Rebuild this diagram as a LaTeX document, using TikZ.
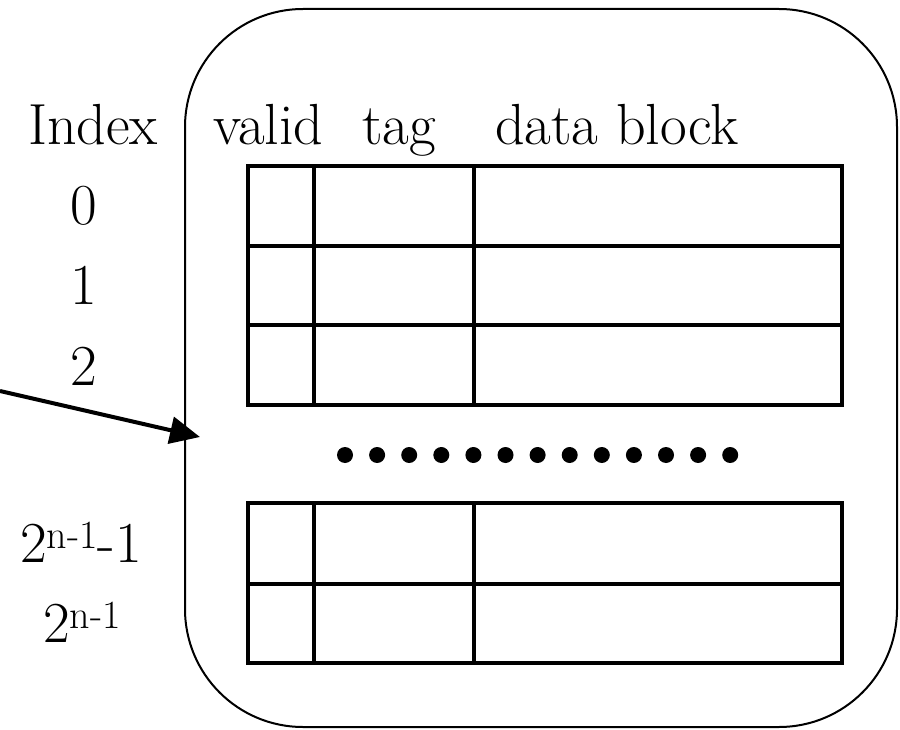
\documentclass[tikz,border=0pt]{standalone}
\usepackage{fontspec}
\usetikzlibrary{arrows.meta}
\newcommand{\supr}[1]{\raisebox{14pt}{\fontsize{40}{44}\selectfont #1}}
\begin{document}
\begin{tikzpicture}[x=1pt,y=-1pt,
  lbl/.style={inner sep=0pt, font=\fontsize{58}{70}\selectfont, anchor=base},
  hdr/.style={lbl, anchor=base west},
  gridline/.style={line width=3.5pt},
  frame/.style={line width=2pt, rounded corners=118pt},
  ptr/.style={line width=4pt, -{Triangle[length=30pt,width=27pt]}},
  dotmark/.style={circle, fill, inner sep=0pt, minimum size=16pt}]
\useasboundingbox (0,0) rectangle (900,730);
% outer rounded frame
\draw[frame] (185,9) rectangle (897,727);
% header labels
\node[lbl] (idx) at (93,145) {Index};
\node[hdr] (valid) at (213,145) {valid};
\node[hdr] (tag) at (362,145) {tag};
\node[hdr] (data) at (495,145) {data block};
% index labels
\node[lbl] (i0) at (84,225) {0};
\node[lbl] (i1) at (84,305) {1};
\node[lbl] (i2) at (84,385) {2};
\node[lbl] (in1) at (81,562) {2\supr{n-1}-1};
\node[lbl] (in) at (82,642) {2\supr{n-1}};
% upper table
\draw[gridline] (248,166) rectangle (842,405);
\draw[gridline] (248,246) -- (842,246);
\draw[gridline] (248,325) -- (842,325);
\draw[gridline] (314,166) -- (314,405);
\draw[gridline] (474,166) -- (474,405);
% lower table
\draw[gridline] (248,503) rectangle (842,663);
\draw[gridline] (248,584) -- (842,584);
\draw[gridline] (314,503) -- (314,663);
\draw[gridline] (474,503) -- (474,663);
% dots
\foreach \i in {0,...,12} {
  \node[dotmark] (d\i) at ({345+32.1*\i},455) {};
}
% arrow
\coordinate (tail) at (0,391);
\coordinate (tip) at (200,437);
\draw[ptr] (tail) -- (tip);
\end{tikzpicture}
\end{document}
